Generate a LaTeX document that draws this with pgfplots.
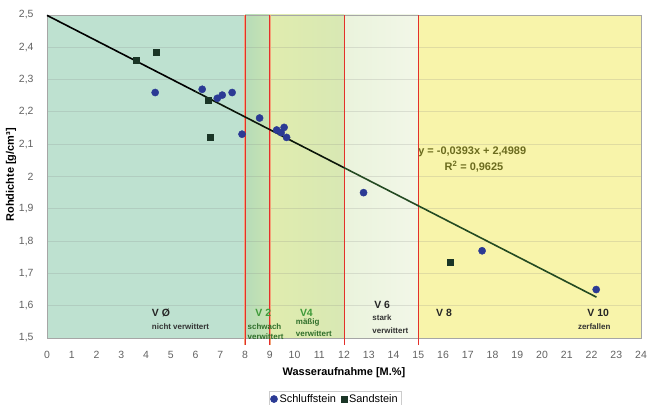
\documentclass[border=0pt]{standalone}
\usepackage{fontspec}
\setmainfont{Liberation Sans}
\usepackage{pgfplots}
\pgfplotsset{compat=1.18}
\definecolor{zA}{HTML}{BEE1D0}
\definecolor{zB1}{HTML}{B6DBB8}
\definecolor{zB2}{HTML}{C8E4B2}
\definecolor{zC1}{HTML}{E0ECAE}
\definecolor{zC2}{HTML}{D8E8B4}
\definecolor{zD1}{HTML}{EAF3DC}
\definecolor{zD2}{HTML}{F2F7E8}
\definecolor{zE}{HTML}{F8F4AA}
\definecolor{redl}{HTML}{E3302A}
\definecolor{orl}{HTML}{F2A27A}
\definecolor{schluff}{HTML}{2B3A94}
\definecolor{sand}{HTML}{1A3526}
\definecolor{trendg}{HTML}{244A22}
\definecolor{eqcol}{HTML}{6B6B1E}
\definecolor{gtext}{HTML}{3E9A3A}
\definecolor{gtextd}{HTML}{2F6E2A}
\begin{document}
\begin{tikzpicture}
\begin{axis}[name=ax, set layers, scale only axis, width=594bp, height=323bp,
  xmin=0, xmax=24, ymin=1.5, ymax=2.5, clip=false,
  xtick={0,1,...,24},
  ytick={1.5,1.6,1.7,1.8,1.9,2.0,2.1,2.2,2.3,2.4,2.5},
  /pgf/number format/use comma, /pgf/number format/1000 sep={},
  /pgf/number format/assume math mode=true,
  ymajorgrids, grid style={gray, opacity=0.2, line width=0.8pt},
  axis line style={gray!70},
  major tick length=0pt,
  tick label style={font=\fontsize{10.5}{12}\selectfont, text=black!62},
  xticklabel style={yshift=-10bp},
  yticklabel style={xshift=-10bp},
  xlabel={\bfseries Wasseraufnahme [M.\%]},
  xlabel style={at={(axis description cs:0.5,-0.1084)}, anchor=center, font=\fontsize{11}{12}\selectfont},
  ylabel={\bfseries Rohdichte [g/cm³]},
  ylabel style={at={(axis description cs:-0.0606,0.505)}, anchor=center, font=\fontsize{11}{12}\selectfont},
  legend columns=2,
  legend style={at={(axis description cs:0.485,-0.189)}, anchor=center, draw=gray!40,
    font=\fontsize{11}{12}\selectfont, inner sep=1bp,
    /tikz/every even column/.append style={column sep=3bp}},
  legend cell align=left,
]
\begin{pgfonlayer}{axis background}
\fill[zA] (axis cs:0,1.5) rectangle (axis cs:8,2.5);
\shade[left color=zB1, right color=zB2] (axis cs:8,1.5) rectangle (axis cs:9,2.5);
\shade[left color=zC1, right color=zC2] (axis cs:9,1.5) rectangle (axis cs:12,2.5);
\shade[left color=zD1, right color=zD2] (axis cs:12,1.5) rectangle (axis cs:15,2.5);
\fill[zE] (axis cs:15,1.5) rectangle (axis cs:24,2.5);
\end{pgfonlayer}
% red zone boundaries
\draw[orl, line width=2.4pt] (axis cs:8,1.478) -- (axis cs:8,2.5);
\draw[orl, line width=2.4pt] (axis cs:9,1.478) -- (axis cs:9,2.5);
\draw[redl, line width=1pt] (axis cs:8,1.478) -- (axis cs:8,2.5);
\draw[redl, line width=1pt] (axis cs:9,1.478) -- (axis cs:9,2.5);
\draw[redl, line width=1pt] (axis cs:12,1.478) -- (axis cs:12,2.5);
\draw[redl, line width=1pt] (axis cs:15,1.478) -- (axis cs:15,2.5);
% trend line
\addplot[forget plot, black, line width=1.6pt] coordinates {(0,2.4989) (6,2.2631)};
\addplot[forget plot, black!70!trendg, line width=1.6pt] coordinates {(6,2.2631) (12,2.0273)};
\addplot[forget plot, trendg, line width=1.6pt] coordinates {(12,2.0273) (22.2,1.6265)};
% data
\addplot[only marks, mark=*, mark size=3.6bp, color=schluff] coordinates {
 (4.37,2.26) (6.27,2.27) (6.88,2.242) (7.08,2.252) (7.48,2.26) (7.88,2.131)
 (8.59,2.181) (9.28,2.144) (9.58,2.152) (9.46,2.136) (9.68,2.121)
 (12.79,1.95) (17.58,1.77) (22.19,1.65)};
\addlegendentry{Schluffstein}
\addplot[only marks, mark=square*, mark size=3bp, color=sand] coordinates {
 (3.6,2.36) (4.43,2.385) (6.5,2.235) (6.61,2.123) (16.28,1.734)};
\addlegendentry{Sandstein}
% zone labels
\node[anchor=west, font=\bfseries\fontsize{10.5}{12}\selectfont, text=black!85] at (axis cs:4.1,1.577) {V Ø};
\node[anchor=west, font=\bfseries\fontsize{8}{9}\selectfont, text=black!80] at (axis cs:4.1,1.535) {nicht verwittert};
\node[anchor=west, font=\bfseries\fontsize{10.5}{12}\selectfont, text=gtext] at (axis cs:8.28,1.577) {V 2};
\node[anchor=west, font=\bfseries\fontsize{8}{9}\selectfont, text=gtextd, inner sep=0.5bp] at (axis cs:8.08,1.535) {schwach};
\node[anchor=west, font=\bfseries\fontsize{8}{9}\selectfont, text=gtextd, inner sep=0.5bp] at (axis cs:8.08,1.504) {verwittert};
\node[anchor=west, font=\bfseries\fontsize{10.5}{12}\selectfont, text=gtext] at (axis cs:10.08,1.577) {V4};
\node[anchor=west, font=\bfseries\fontsize{8}{9}\selectfont, text=gtextd, inner sep=0.5bp] at (axis cs:10.03,1.547) {mäßig};
\node[anchor=west, font=\bfseries\fontsize{8}{9}\selectfont, text=gtextd, inner sep=0.5bp] at (axis cs:10.03,1.5146) {verwittert};
\node[anchor=west, font=\bfseries\fontsize{10.5}{12}\selectfont, text=black!85] at (axis cs:13.08,1.602) {V 6};
\node[anchor=west, font=\bfseries\fontsize{8}{9}\selectfont, text=black!80, inner sep=0.5bp] at (axis cs:13.12,1.562) {stark};
\node[anchor=west, font=\bfseries\fontsize{8}{9}\selectfont, text=black!80, inner sep=0.5bp] at (axis cs:13.12,1.523) {verwittert};
\node[anchor=west, font=\bfseries\fontsize{10.5}{12}\selectfont, text=black!85] at (axis cs:15.58,1.577) {V 8};
\node[anchor=center, font=\bfseries\fontsize{10.5}{12}\selectfont, text=black!85] at (axis cs:22.27,1.577) {V 10};
\node[anchor=center, font=\bfseries\fontsize{8}{9}\selectfont, text=black!80] at (axis cs:22.11,1.535) {zerfallen};
% equation
\node[anchor=center, font=\bfseries\fontsize{11}{12}\selectfont, text=eqcol] at (axis cs:17.18,2.076) {y = -0,0393x + 2,4989};
\node[anchor=center, font=\bfseries\fontsize{11}{12}\selectfont, text=eqcol] at (axis cs:17.25,2.029) {R\textsuperscript{2} = 0,9625};
\end{axis}
\pgfresetboundingbox
\path[use as bounding box] ([shift={(-47bp,-67bp)}]ax.south west) rectangle ([shift={(8bp,15bp)}]ax.north east);
\end{tikzpicture}
\end{document}
